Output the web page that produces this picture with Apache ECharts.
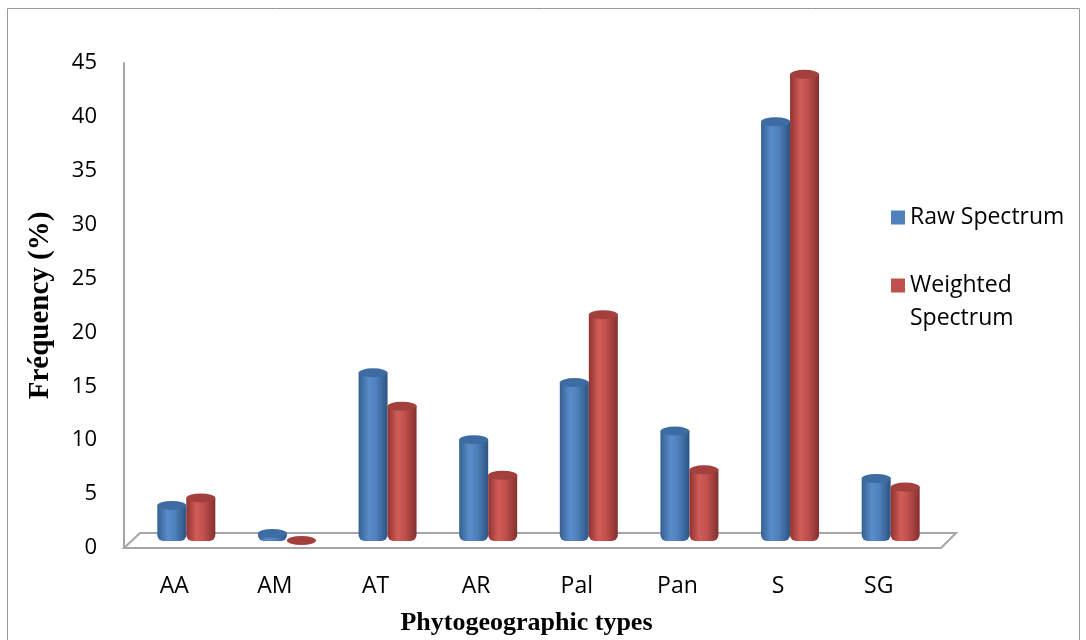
<!DOCTYPE html>
<html>
<head>
<meta charset="utf-8">
<script src="https://cdn.jsdelivr.net/npm/echarts@6/dist/echarts.min.js"></script>
<style>
  html, body { margin: 0; padding: 0; background: #fff; }
  #chart { width: 1086px; height: 640px; }
</style>
</head>
<body>
<div id="chart"></div>
<script>
// data
const categories = ['AA', 'AM', 'AT', 'AR', 'Pal', 'Pan', 'S', 'SG'];
const rawSpectrum = [3.3, 0.7, 15.6, 9.4, 14.7, 10.2, 38.9, 5.8];
const weightedSpectrum = [4.0, 0.05, 12.5, 6.1, 21.0, 6.6, 43.3, 5.0];
const yMin = 0, yMax = 45, yStep = 5;

const blueBody = new echarts.graphic.LinearGradient(0, 0, 1, 0, [
  { offset: 0, color: '#35608f' },
  { offset: 0.35, color: '#5a8ccb' },
  { offset: 0.6, color: '#4f81bd' },
  { offset: 1, color: '#2c5483' }
]);
const redBody = new echarts.graphic.LinearGradient(0, 0, 1, 0, [
  { offset: 0, color: '#8f3331' },
  { offset: 0.35, color: '#d25c58' },
  { offset: 0.6, color: '#c0504d' },
  { offset: 1, color: '#83302e' }
]);

const barW = 29;
const font = 'Open Sans';
const chart = echarts.init(document.getElementById('chart'));

// grid 0 = the front axes (labels), grid 1 = the bars, pushed back a bit like the 3d view
chart.setOption({
  animation: false,
  grid: [
    { left: 124, right: 157, top: 63, bottom: 92, outerBoundsMode: 'none' },
    { left: 136, right: 145, top: 56, bottom: 99, outerBoundsMode: 'none' }
  ],
  legend: {
    orient: 'vertical',
    left: 886,
    top: 196,
    itemWidth: 14,
    itemHeight: 14,
    itemGap: 2,
    formatter: function (name) {
      if (name.indexOf('\n') < 0) return name;
      // blank first line so the marker sits beside "Weighted"
      return '{e| }\n' + name;
    },
    textStyle: {
      fontFamily: font, fontSize: 23, color: '#000', lineHeight: 33,
      rich: { e: { lineHeight: 33, fontSize: 23 } }
    },
    data: [
      { name: 'Raw Spectrum', icon: 'rect', itemStyle: { color: '#4f81bd' } },
      { name: 'Weighted\nSpectrum', icon: 'rect', itemStyle: { color: '#c0504d' } }
    ]
  },
  xAxis: [
    {
      type: 'category',
      data: categories,
      name: 'Phytogeographic types',
      nameLocation: 'middle',
      nameGap: 62,
      nameTextStyle: { fontFamily: 'Liberation Serif', fontWeight: 'bold', fontSize: 26, color: '#000' },
      axisLine: { show: false },
      axisTick: { show: false },
      axisLabel: { margin: 27, fontFamily: font, fontSize: 23, color: '#000' }
    },
    {
      type: 'category',
      gridIndex: 1,
      data: categories,
      show: false
    }
  ],
  yAxis: [
    {
      type: 'value',
      min: yMin,
      max: yMax,
      interval: yStep,
      name: 'Fréquency (%)',
      nameLocation: 'middle',
      nameGap: 69,
      nameTextStyle: { fontFamily: 'Liberation Serif', fontWeight: 'bold', fontSize: 29, color: '#000' },
      axisLine: { show: true, lineStyle: { color: '#a6a6a6', width: 2 } },
      axisTick: { show: false },
      splitLine: { show: false },
      axisLabel: { margin: 27, fontFamily: font, fontSize: 22, color: '#000' }
    },
    {
      type: 'value',
      gridIndex: 1,
      min: yMin,
      max: yMax,
      interval: yStep,
      show: false,
      splitLine: { show: false }
    }
  ],
  graphic: [
    {
      type: 'rect',
      shape: { x: 7.5, y: 8.5, width: 1072, height: 640 },
      style: { fill: 'none', stroke: '#9a9a9a', lineWidth: 1 },
      silent: true
    },
    {
      type: 'polygon',
      z: 0,
      shape: { points: [[124, 548], [941, 548], [956, 533], [140, 533]] },
      style: { fill: '#fff', stroke: '#a6a6a6', lineWidth: 2 },
      silent: true
    }
  ],
  series: [
    {
      name: 'Raw Spectrum',
      type: 'bar',
      xAxisIndex: 1,
      yAxisIndex: 1,
      data: rawSpectrum,
      barWidth: barW,
      barGap: '0%',
      z: 2,
      itemStyle: { color: blueBody, borderRadius: [0, 0, 6, 6] }
    },
    {
      name: 'Weighted\nSpectrum',
      type: 'bar',
      xAxisIndex: 1,
      yAxisIndex: 1,
      data: weightedSpectrum,
      barWidth: barW,
      barGap: '0%',
      z: 2,
      itemStyle: { color: redBody, borderRadius: [0, 0, 6, 6] }
    },
    {
      name: 'Raw Spectrum',
      type: 'pictorialBar',
      xAxisIndex: 1,
      yAxisIndex: 1,
      data: rawSpectrum,
      symbol: 'circle',
      symbolSize: [barW, 9],
      symbolPosition: 'end',
      symbolOffset: [0, '-50%'],
      barWidth: barW,
      barGap: '0%',
      z: 3,
      itemStyle: { color: '#3d6ca3' }
    },
    {
      name: 'Weighted\nSpectrum',
      type: 'pictorialBar',
      xAxisIndex: 1,
      yAxisIndex: 1,
      data: weightedSpectrum,
      symbol: 'circle',
      symbolSize: [barW, 9],
      symbolPosition: 'end',
      symbolOffset: [0, '-50%'],
      barWidth: barW,
      barGap: '0%',
      z: 3,
      itemStyle: { color: '#a33f3c' }
    }
  ]
});
</script>
</body>
</html>
